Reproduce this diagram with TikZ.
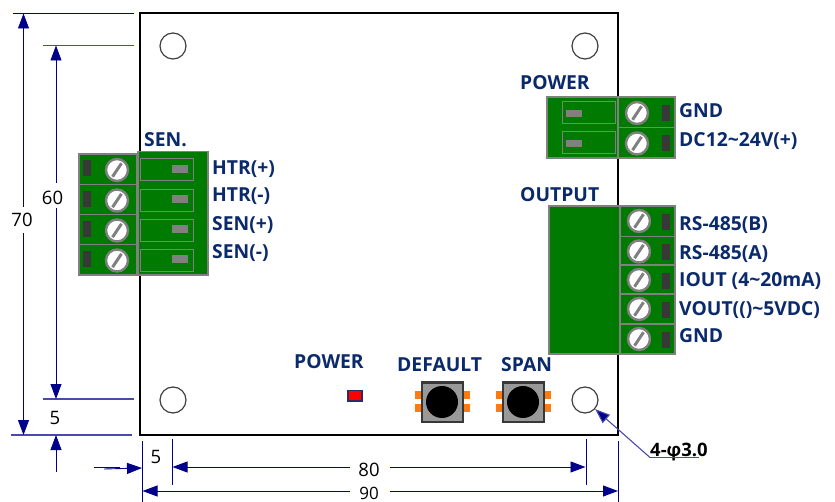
\documentclass[tikz,border=0pt]{standalone}
\usepackage{fontspec}
\setmainfont{Open Sans}
\usetikzlibrary{arrows.meta}
\definecolor{pcb}{HTML}{007A00}
\definecolor{edge}{HTML}{808080}
\definecolor{dim}{HTML}{00008B}
\definecolor{dimpale}{HTML}{4A4AA8}
\definecolor{lab}{HTML}{0B2A6B}
\definecolor{pad}{HTML}{FF7A10}
\tikzset{
  x=1pt,y=-1pt,
  housing/.style={fill=pcb,draw=edge,line width=1.5pt},
  slot/.style={draw=edge,line width=1pt},
  tab/.style={fill=edge},
  dark/.style={fill=black!78},
  screwring/.style={circle,draw=edge,fill=white,line width=2.4pt,minimum size=22pt,inner sep=0pt},
  slash/.style={draw=edge,line width=3pt},
  hole/.style={circle,draw=black!75,line width=1.2pt,minimum size=26pt,inner sep=0pt},
  lbl/.style={text=lab,font=\fontsize{19.3}{21}\selectfont\bfseries,inner sep=0pt,anchor=base west},
  dimtxt/.style={text=black,font=\fontsize{18.5}{20}\selectfont,inner sep=0pt,anchor=base},
  dimline/.style={draw=dim,line width=1pt},
  extline/.style={draw=dimpale,line width=1.1pt},
  dimarrow/.style={draw=dim,line width=.9pt,-{Triangle[length=15pt,width=11pt,fill=dim]}},
}
\newcommand{\screwat}[3]{%
  \node[screwring] (#1) at (#2,#3) {};
  \draw[slash] (#2-4.5,#3+6.7) -- (#2+4.5,#3-6.7);
}
\begin{document}
\begin{tikzpicture}
\clip (0,0) rectangle (835,502);
\fill[white] (0,0) rectangle (835,502);
% board
\draw[black,line width=2pt] (139.5,13.5) rectangle (618,434.5);
% holes
\node[hole] (h1) at (173,46) {};
\node[hole] (h2) at (585,46) {};
\node[hole] (h3) at (173,400) {};
\node[hole] (h4) at (585,400) {};
% left connector
\foreach \i/\yy in {1/154,2/184.5,3/214.5,4/244.5}{
  \draw[housing] (79,\yy) rectangle (137,\yy+30.5);
  \fill[dark] (83,\yy+6.5) rectangle (91,\yy+22.5);
  \screwat{ls\i}{117}{\yy+16}
}
\draw[housing] (138,151.5) rectangle (208,275);
\foreach \yy in {159,189.5,219.5,249.5}{
  \draw[slot] (140,\yy) rectangle (193,\yy+22);
  \fill[tab] (172,\yy+6) rectangle (188,\yy+14);
}
% power connector
\draw[housing] (547,97) rectangle (618,158);
\foreach \yy in {102,132}{
  \draw[slot] (562,\yy) rectangle (615,\yy+22);
  \fill[tab] (566,\yy+8) rectangle (582,\yy+15);
}
\foreach \i/\yy/\h in {1/97/30.5,2/127.5/30.5}{
  \draw[housing] (618,\yy) rectangle (675,\yy+\h);
  \fill[dark] (662,\yy+8) rectangle (670,\yy+24);
  \screwat{ps\i}{637}{\yy+16}
}
% output connector
\draw[housing] (549,206) rectangle (620,354);
\foreach \i/\yy/\h in {1/206/30.5,2/236.5/28.5,3/265/29,4/294/30,5/324/30}{
  \draw[housing] (620,\yy) rectangle (675,\yy+\h);
  \fill[dark] (662,\yy+8) rectangle (670,\yy+24);
  \screwat{os\i}{639}{\yy+15}
}
% LED
\draw[fill=red,draw=black!40!dimpale,line width=1.5pt] (348,390.5) rectangle (362,401);
% buttons
\foreach \n/\x in {d/422,s/503}{
  \foreach \yy in {391,404}{
    \fill[pad] (\x-7,\yy) rectangle (\x,\yy+8);
    \fill[pad] (\x+41,\yy) rectangle (\x+48,\yy+8);
  }
  \draw[fill=black!40,draw=black!78,line width=2.2pt] (\x,382.5) rectangle (\x+41,422);
  \node[circle,fill=black,minimum size=32pt,inner sep=0pt] (btn\n) at (\x+20,402) {};
}
% labels
\node[lbl] (tsen) at (144,147) {SEN.};
\node[lbl] (t1) at (212,175) {HTR(+)};
\node[lbl] (t2) at (212,202) {HTR(-)};
\node[lbl] (t3) at (212,231) {SEN(+)};
\node[lbl] (t4) at (212,259) {SEN(-)};
\node[lbl] (tpow) at (520,90) {POWER};
\node[lbl] (t5) at (679,118) {GND};
\node[lbl] (t6) at (679,147) {DC12\char"007E 24V(+)};
\node[lbl] (tout) at (520,202) {OUTPUT};
\node[lbl] (t7) at (679,231) {RS-485(B)};
\node[lbl] (t8) at (679,260) {RS-485(A)};
\node[lbl] (t9) at (679,287) {IOUT\ (4\char"007E 20mA)};
\node[lbl] (t10) at (679,316) {VOUT(()\char"007E 5VDC)};
\node[lbl] (t11) at (679,343) {GND};
\node[lbl] (tled) at (294,369) {POWER};
\node[lbl] (tdef) at (397,371) {DEFAULT};
\node[lbl] (tspan) at (501,371) {SPAN};
% dimension extension lines
\draw[dimline] (13,13.5) -- (134,13.5);
\draw[extline] (43,45.5) -- (134,45.5);
\draw[extline] (43,399) -- (134,399);
\draw[extline] (11,435) -- (132,435);
\draw[dimline] (142,441) -- (142,502);
\draw[dimline] (172,439) -- (172,485);
\draw[dimline] (586,439) -- (586,485);
\draw[dimline] (618,441) -- (618,502);
% vertical dimensions
\coordinate (a70t) at (23.5,13.5); \coordinate (a70b) at (23.5,435);
\coordinate (a60t) at (56,45.5); \coordinate (a60b) at (56,399);
\node[dimtxt] (d70) at (22,227) {70};
\node[dimtxt] (d60) at (52.5,205) {60};
\node[dimtxt] (d5a) at (55,424) {5};
\draw[dimarrow] (23.5,207) -- (a70t);
\draw[dimarrow] (23.5,233) -- (a70b);
\draw[dimarrow] (56,183) -- (a60t);
\draw[dimarrow] (56,208) -- (a60b);
\coordinate (a5s) at (56,472); \coordinate (a5e) at (56,435);
\draw[dimarrow] (a5s) -- (a5e);
% horizontal dimensions
\node[dimtxt] (d5b) at (156,463) {5};
\node[dimtxt] (d80) at (369,476) {80};
\node[dimtxt,font=\fontsize{17}{18}\selectfont] (d90) at (369,499) {90};
\coordinate (b5s) at (94,467); \coordinate (b5e) at (142,467);
\draw[dimline] (b5s) -- (120,467);
\draw[dimarrow] (104,469) -- (142,468);
\draw[dimarrow] (350,467) -- (172.5,467);
\draw[dimarrow] (390,467) -- (585.5,467);
\draw[dimarrow] (350,491) -- (142.5,491);
\draw[dimarrow] (390,491) -- (618,491);
% leader
\node[text=black,font=\fontsize{18.5}{20}\selectfont\bfseries,inner sep=0pt,anchor=base west] (lead) at (650,456) {4-φ3.0};
\coordinate (elbow) at (650,457.5);
\draw[extline] (699,457.5) -- (elbow);
\draw[extline,-{Triangle[length=15pt,width=11pt,fill=dim]}] (elbow) -- (h4.-42);
\end{tikzpicture}
\end{document}
